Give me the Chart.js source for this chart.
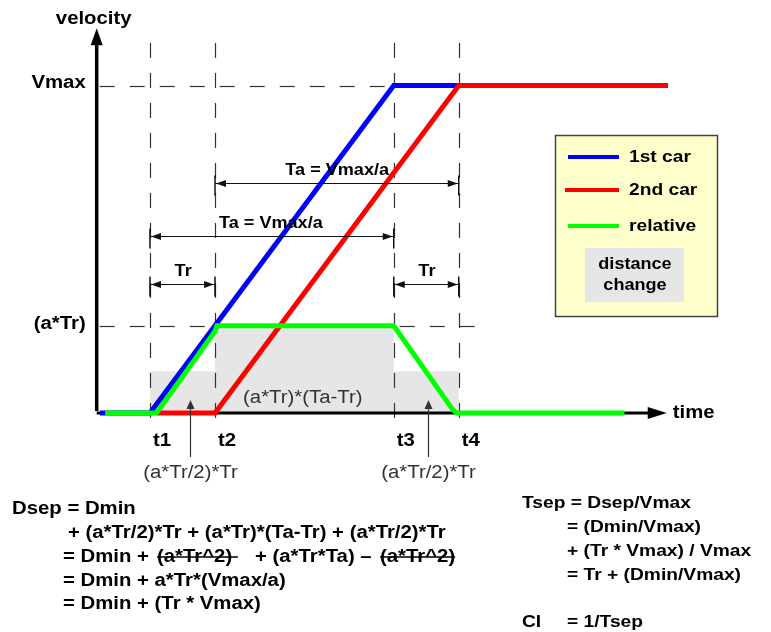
<!DOCTYPE html>
<html>
<head>
<meta charset="utf-8">
<script src="https://cdn.jsdelivr.net/npm/chart.js@4.4.0/dist/chart.umd.min.js"></script>
<style>
  html, body { margin: 0; padding: 0; background: #fff; }
  canvas { display: block; }
</style>
</head>
<body>
<canvas id="chart_canvas" width="771" height="632"></canvas>
<script>
// time axis: Tr = 1, Ta = 3.75 ; speed axis: Vmax = 1
const timeTicks = [1, 2, 4.75, 5.75];
const timeTickLabels = ["t1", "t2", "t3", "t4"];
const speedTicks = [1, 0.2667];
const speedTickLabels = ["Vmax", "(a*Tr)"];

const car1Time  = [0.23, 1, 4.75, 5.75];
const car1Speed = [0, 0, 1, 1];
const car2Time  = [1.1, 2, 5.75, 8.97];
const car2Speed = [0, 0, 1, 1];
const relTime   = [0.31, 1.1, 2.0, 2.03, 4.75, 5.66, 5.72, 8.3];
const relSpeed  = [0, 0, 0.25, 0.2667, 0.2667, 0.01, 0, 0];
const distTime   = [1, 2, 4.75, 5.75];
const distHeight = [0.128, 0.2667, 0.128, 0.128];

const spanFrom   = [2, 1, 1, 4.75];
const spanTo     = [5.75, 4.75, 2, 5.75];
const spanLevel  = [0.702, 0.54, 0.394, 0.394];
const spanLabels = ["Ta = Vmax/a", "Ta = Vmax/a", "Tr", "Tr"];
const spanLabelTime = [3.88, 2.86, 1.51, 5.26];

const noteTime   = [1.62, 5.28];
const noteLabels = ["(a*Tr/2)*Tr", "(a*Tr/2)*Tr"];
const midNote = "(a*Tr)*(Ta-Tr)";

const FONT = '"Liberation Sans", Arial, sans-serif';
const STRETCH = 1.13;

function pts(xs, ys) { return xs.map((x, i) => ({ x: x, y: ys[i] })); }

function txt(ctx, text, x, y, size, opts) {
  opts = opts || {};
  ctx.save();
  ctx.font = (opts.weight || "bold") + " " + size + "px " + FONT;
  ctx.fillStyle = opts.color || "#000";
  ctx.textAlign = opts.align || "left";
  ctx.textBaseline = "middle";
  ctx.translate(x, y);
  ctx.scale(STRETCH, 1);
  ctx.fillText(text, 0, 0);
  const w = ctx.measureText(text).width * STRETCH;
  ctx.restore();
  return w;
}

function strike(ctx, x1, x2, y) {
  ctx.save();
  ctx.strokeStyle = "#000";
  ctx.lineWidth = 1.6;
  ctx.beginPath();
  ctx.moveTo(x1, y); ctx.lineTo(x2, y);
  ctx.stroke();
  ctx.restore();
}

function arrowHead(ctx, x, y, dir, len, half) {
  // dir: "left" | "right" | "up"
  ctx.beginPath();
  ctx.moveTo(x, y);
  if (dir === "left")  { ctx.lineTo(x + len, y - half); ctx.lineTo(x + len, y + half); }
  if (dir === "right") { ctx.lineTo(x - len, y - half); ctx.lineTo(x - len, y + half); }
  if (dir === "up")    { ctx.lineTo(x - half, y + len); ctx.lineTo(x + half, y + len); }
  ctx.closePath();
  ctx.fill();
}

const axisTime = 0.18, axisEndTime = 8.95, axisTopSpeed = 1.175;

const diagramPlugin = {
  id: "diagram",
  afterDatasetDraw(chart, args) {
    if (args.index !== 3) return;   // right after the grey area
    const ctx = chart.ctx, sx = chart.scales.x, sy = chart.scales.y;
    const px = v => sx.getPixelForValue(v), py = v => sy.getPixelForValue(v);
    ctx.save();
    // dashed guides
    ctx.strokeStyle = "#333";
    ctx.lineWidth = 1.2;
    ctx.setLineDash([15, 15]);
    timeTicks.forEach(t => {
      ctx.beginPath();
      ctx.moveTo(Math.round(px(t)) + 0.5, py(1.13));
      ctx.lineTo(Math.round(px(t)) + 0.5, py(-0.05));
      ctx.stroke();
    });
    const hEnd = [5.75, 6.05];
    speedTicks.forEach((s, i) => {
      ctx.beginPath();
      ctx.moveTo(px(axisTime) + 3, Math.round(py(s)) + 0.5);
      ctx.lineTo(px(hEnd[i]), Math.round(py(s)) + 0.5);
      ctx.stroke();
    });
    ctx.setLineDash([]);
    // axes
    ctx.strokeStyle = "#000";
    ctx.fillStyle = "#000";
    ctx.lineWidth = 3.5;
    const ax = px(axisTime), ay = py(0);
    ctx.beginPath();
    ctx.moveTo(ax, ay - 2); ctx.lineTo(ax, py(axisTopSpeed) + 14);
    ctx.stroke();
    arrowHead(ctx, ax, py(axisTopSpeed), "up", 17, 6);
    ctx.lineWidth = 3;
    ctx.beginPath();
    ctx.moveTo(ax, ay); ctx.lineTo(px(axisEndTime) - 16, ay);
    ctx.stroke();
    arrowHead(ctx, px(axisEndTime), ay, "right", 19, 6);
    ctx.restore();
  },
  afterDatasetsDraw(chart) {
    const ctx = chart.ctx, sx = chart.scales.x, sy = chart.scales.y;
    const px = v => sx.getPixelForValue(v), py = v => sy.getPixelForValue(v);
    ctx.save();
    // span arrows
    ctx.strokeStyle = "#111";
    ctx.fillStyle = "#111";
    spanFrom.forEach((f, i) => {
      const x1 = px(f), x2 = px(spanTo[i]), y = Math.round(py(spanLevel[i])) + 0.5;
      ctx.lineWidth = 1;
      ctx.beginPath();
      ctx.moveTo(x1, y); ctx.lineTo(x2, y);
      ctx.stroke();
      arrowHead(ctx, x1 + 1, y, "left", 10, 3.5);
      arrowHead(ctx, x2 - 1, y, "right", 10, 3.5);
      ctx.lineWidth = 1.5;
      ctx.beginPath();
      ctx.moveTo(x1, y - 8); ctx.lineTo(x1, y + 12);
      ctx.moveTo(x2, y - 8); ctx.lineTo(x2, y + 12);
      ctx.stroke();
      txt(ctx, spanLabels[i], px(spanLabelTime[i]), y - 13, 16, { align: "center" });
    });
    // area notes
    ctx.strokeStyle = "#333";
    ctx.fillStyle = "#333";
    noteTime.forEach((t, i) => {
      const x = Math.round(px(t)) + 0.5;
      ctx.lineWidth = 1.2;
      ctx.beginPath();
      ctx.moveTo(x, py(-0.134)); ctx.lineTo(x, py(0.04) + 8);
      ctx.stroke();
      arrowHead(ctx, x, py(0.04), "up", 9, 4);
      txt(ctx, noteLabels[i], x, py(-0.183), 18, { weight: "normal", align: "center", color: "#333" });
    });
    txt(ctx, midNote, px(3.35), py(0.046), 18, { weight: "normal", align: "center", color: "#333" });
    // tick labels
    timeTickLabels.forEach((l, i) => txt(ctx, l, px(timeTicks[i]) + 3, py(-0.085), 18));
    speedTickLabels.forEach((l, i) => txt(ctx, l, px(axisTime) - 11, py(speedTicks[i]) - 2, 18, { align: "right" }));
    txt(ctx, "velocity", px(axisTime) - 3, 19, 18, { align: "center" });
    txt(ctx, "time", px(axisEndTime) + 6, py(0), 18);
    ctx.restore();
  },
  afterDraw(chart) {
    const ctx = chart.ctx;
    const ds = chart.data.datasets;
    ctx.save();
    // legend box
    ctx.fillStyle = "#ffffcc";
    ctx.fillRect(555, 135, 163, 182);
    ctx.strokeStyle = "#444";
    ctx.lineWidth = 1.5;
    ctx.strokeRect(555.5, 135.5, 162, 181);
    const rows = [157, 190, 226];
    const lineStart = [568, 565, 568];
    for (let i = 0; i < 3; i++) {
      ctx.strokeStyle = ds[i].borderColor;
      ctx.lineWidth = 4;
      ctx.beginPath();
      ctx.moveTo(lineStart[i], rows[i]); ctx.lineTo(619, rows[i]);
      ctx.stroke();
      txt(ctx, ds[i].label, 629, rows[i], 17);
    }
    ctx.fillStyle = ds[3].backgroundColor;
    ctx.fillRect(585, 248, 99, 54);
    const words = ds[3].label.split(" ");
    txt(ctx, words[0], 635, 265, 16, { align: "center" });
    txt(ctx, words[1], 635, 286, 16, { align: "center" });

    // formulas
    txt(ctx, "Dsep = Dmin", 12, 509, 18);
    txt(ctx, "+ (a*Tr/2)*Tr + (a*Tr)*(Ta-Tr) + (a*Tr/2)*Tr", 68, 533, 18);
    txt(ctx, "= Dmin +", 63, 557, 18);
    txt(ctx, "(a*Tr^2)", 157, 557, 18);
    strike(ctx, 157, 238, 557);
    txt(ctx, "+ (a*Tr*Ta) \u2013", 255, 557, 18);
    const w2 = txt(ctx, "(a*Tr^2)", 380, 557, 18);
    strike(ctx, 380, 380 + w2, 557);
    txt(ctx, "= Dmin + a*Tr*(Vmax/a)", 63, 581, 18);
    txt(ctx, "= Dmin + (Tr * Vmax)", 63, 604, 18);

    txt(ctx, "Tsep = Dsep/Vmax", 522, 503, 17);
    txt(ctx, "= (Dmin/Vmax)", 567, 527, 17);
    txt(ctx, "+ (Tr * Vmax) / Vmax", 567, 551, 17);
    txt(ctx, "= Tr + (Dmin/Vmax)", 567, 575, 17);
    txt(ctx, "CI", 522, 622, 17);
    txt(ctx, "= 1/Tsep", 567, 622, 17);
    ctx.restore();
  }
};

const context = document.getElementById("chart_canvas").getContext("2d");
const chart = new Chart(context, {
  type: "line",
  data: {
    datasets: [{
      label: "1st car",
      data: pts(car1Time, car1Speed),
      borderColor: "#0000ff",
      borderWidth: 5,
      order: 2
    }, {
      label: "2nd car",
      data: pts(car2Time, car2Speed),
      borderColor: "#ff0000",
      borderWidth: 5,
      order: 1
    }, {
      label: "relative",
      data: pts(relTime, relSpeed),
      borderColor: "#00ff00",
      borderWidth: 5,
      order: 0
    }, {
      label: "distance change",
      data: pts(distTime, distHeight),
      borderColor: "rgba(0,0,0,0)",
      backgroundColor: "#e6e6e6",
      borderWidth: 0,
      stepped: "before",
      fill: "origin",
      order: 3
    }]
  },
  options: {
    responsive: false,
    animation: false,
    devicePixelRatio: 1,
    layout: { padding: { left: 85, right: 88, top: 20, bottom: 137 } },
    elements: { point: { radius: 0 }, line: { tension: 0, borderJoinStyle: "miter" } },
    plugins: { legend: { display: false }, tooltip: { enabled: false } },
    scales: {
      x: { type: "linear", min: 0, max: 9.2, display: false },
      y: { type: "linear", min: -0.25, max: 1.2, display: false }
    }
  },
  plugins: [diagramPlugin]
});
</script>
</body>
</html>
